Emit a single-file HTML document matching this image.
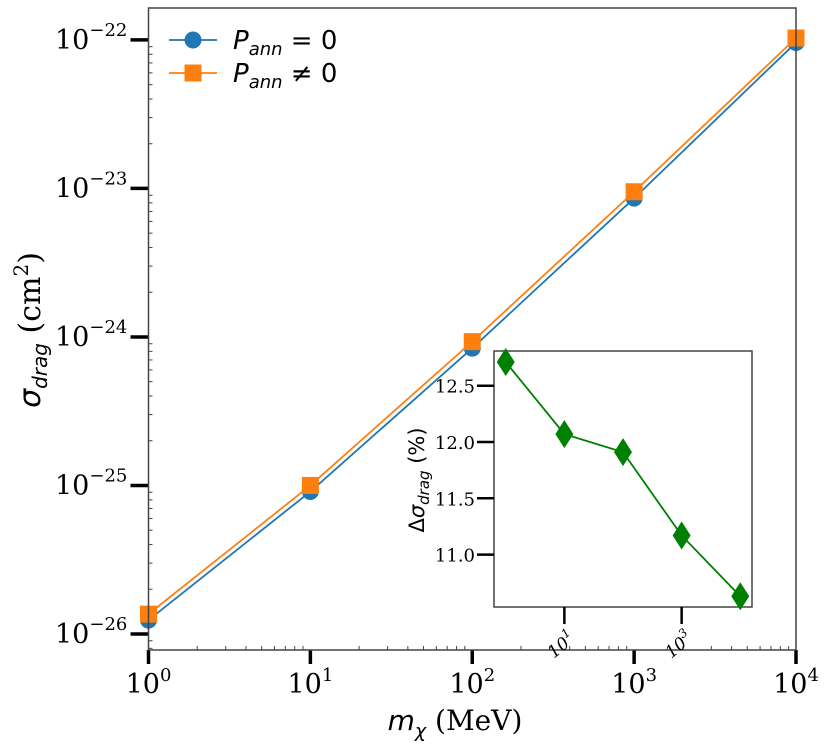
<!DOCTYPE html>
<html><head><meta charset="utf-8"><style>
html,body{margin:0;padding:0;background:#fff;}
svg{display:block;}
.serif{font-family:"DejaVu Serif","Liberation Serif",serif;}
.sans{font-family:"DejaVu Sans","Liberation Sans",sans-serif;}
</style></head><body>
<svg id="chart" width="826" height="749" viewBox="0 0 826 749" xmlns="http://www.w3.org/2000/svg">
<g id="main"></g>
<g id="inset"></g>
</svg>
<script>
// Main chart data
const masses = [1, 10, 100, 1000, 10000];
const sigmaNoAnn = [1.24e-26, 9.1e-26, 8.4e-25, 8.6e-24, 9.6e-23];
const sigmaAnn = [1.36e-26, 1.0e-25, 9.3e-25, 9.5e-24, 1.03e-22];
const xTickExps = [0, 1, 2, 3, 4];
const yTickExps = [-26, -25, -24, -23, -22];
// Inset data
const insetMasses = [1, 10, 100, 1000, 10000];
const deltaSigma = [12.71, 12.07, 11.91, 11.17, 10.63];
const insetYTicks = [11.0, 11.5, 12.0, 12.5];
const insetXTickExps = [1, 3];

const NS = "http://www.w3.org/2000/svg";
function mk(tag, attrs, parent, text) {
  const e = document.createElementNS(NS, tag);
  for (const k in attrs) e.setAttribute(k, attrs[k]);
  if (text !== undefined) e.textContent = text;
  parent.appendChild(e);
  return e;
}
const main = document.getElementById('main');
const inset = document.getElementById('inset');

const L = 148.5, R = 796, T = 8, B = 650;
const xMinL = 0, xMaxL = 4;
const yTopL = -21.785, yBotL = -26.108;
const xs = v => L + (Math.log10(v) - xMinL) / (xMaxL - xMinL) * (R - L);
const ys = v => T + (yTopL - Math.log10(v)) / (yTopL - yBotL) * (B - T);

for (let d = 0; d < 4; d++) for (let m = 2; m <= 9; m++) {
  const x = xs(m * Math.pow(10, d));
  const t = mk('line', {x1: x, x2: x, y1: B, y2: B - 4, stroke: '#444', 'stroke-width': 1}, main);
  
  
}
for (let d = -27; d <= -22; d++) for (let m = 2; m <= 9; m++) {
  const v = m * Math.pow(10, d);
  const y = ys(v);
  if (y < T || y > B) continue;
  const t = mk('line', {x1: L, x2: L + 4, y1: y, y2: y, stroke: '#444', 'stroke-width': 1}, main);
  
  
}
xTickExps.forEach(e => {
  const x = xs(Math.pow(10, e));
  const t = mk('line', {x1: x, x2: x, y1: B, y2: B + 14, stroke: '#000', 'stroke-width': 3.5}, main);
  
  
  const lab = mk('text', {x: x, y: 693, 'text-anchor': 'middle', 'font-size': 27, class: 'serif'}, main);
  
  
  mk('tspan', {}, lab, '10');
  mk('tspan', {dy: -12, 'font-size': 18}, lab, String(e));
});
yTickExps.forEach(e => {
  const y = ys(Math.pow(10, e));
  const t = mk('line', {x1: L - 18, x2: L, y1: y, y2: y, stroke: '#000', 'stroke-width': 3.5}, main);
  
  
  const lab = mk('text', {x: 55, y: y + 9, 'font-size': 27, class: 'serif'}, main);
  
  
  mk('tspan', {}, lab, '10');
  mk('tspan', {dy: -13, 'font-size': 18}, lab, '\u2212' + String(-e));
});
function series(vals, color, marker, name) {
  const pts = masses.map((m, i) => xs(m) + ',' + ys(vals[i])).join(' ');
  const pl = mk('polyline', {points: pts, fill: 'none', stroke: color, 'stroke-width': 1.8}, main);
  
  
  masses.forEach((m, i) => {
    let el;
    if (marker === 'circle') el = mk('circle', {cx: xs(m), cy: ys(vals[i]), r: 8.5, fill: color}, main);
    else el = mk('rect', {x: xs(m) - 8.5, y: ys(vals[i]) - 8.5, width: 17, height: 17, fill: color}, main);
    
    
  });
}
series(sigmaNoAnn, '#1f77b4', 'circle', 'p-ann-zero');
series(sigmaAnn, '#ff7f0e', 'square', 'p-ann-nonzero');
const c1 = mk('rect', {x: 0, y: 0, width: L - 0.5, height: 749, fill: '#fff'}, main);
 
main.insertBefore(c1, main.firstChild);
const fr = mk('rect', {x: L, y: T, width: R - L, height: B - T, fill: 'none', stroke: '#444', 'stroke-width': 1.5}, main);



const xt = mk('text', {x: 455, y: 730, 'text-anchor': 'middle', 'font-size': 28, class: 'serif'}, main);


mk('tspan', {'font-style': 'italic', class: 'sans'}, xt, 'm');
mk('tspan', {'font-style': 'italic', 'font-size': 19, dy: 7, class: 'sans'}, xt, '\u03c7');
mk('tspan', {dy: -7}, xt, ' (MeV)');

const yt = mk('text', {x: 0, y: 0, 'text-anchor': 'middle', 'font-size': 30, class: 'serif', transform: 'translate(40,330) rotate(-90)'}, main);


mk('tspan', {'font-style': 'italic', class: 'sans'}, yt, '\u03c3');
mk('tspan', {'font-style': 'italic', 'font-size': 20, dy: 7, class: 'sans'}, yt, 'drag');
mk('tspan', {dy: -7}, yt, ' (cm');
mk('tspan', {dy: -12, 'font-size': 20}, yt, '2');
mk('tspan', {dy: 12}, yt, ')');

const lg = mk('g', {}, main);


[['#1f77b4', 'circle', '= 0', 40], ['#ff7f0e', 'square', '\u2260 0', 73]].forEach(([c, m, s, y]) => {
  const e = mk('g', {}, lg);
  
  
  mk('line', {x1: 169, x2: 217, y1: y, y2: y, stroke: c, 'stroke-width': 1.8}, e);
  if (m === 'circle') mk('circle', {cx: 193, cy: y, r: 8.5, fill: c}, e);
  else mk('rect', {x: 184.5, y: y - 8.5, width: 17, height: 17, fill: c}, e);
  const t = mk('text', {x: 233, y: y + 9, 'font-size': 26, class: 'sans'}, e);
  mk('tspan', {'font-style': 'italic'}, t, 'P');
  mk('tspan', {'font-style': 'italic', 'font-size': 18, dy: 6}, t, 'ann');
  mk('tspan', {dy: -6}, t, ' ' + s);
});

const iL = 494, iR = 752, iT = 351, iB = 607;
const ixs = v => iL + (Math.log10(v) + 0.2) / 4.4 * (iR - iL);
const iys = v => 385.7 + (12.5 - v) / 0.5 * 56.3;
const ibg = mk('rect', {x: iL, y: iT, width: iR - iL, height: iB - iT, fill: '#fff', stroke: '#444', 'stroke-width': 1.5}, inset);


insetYTicks.forEach(v => {
  const y = iys(v);
  const t = mk('line', {x1: iL - 17, x2: iL, y1: y, y2: y, stroke: '#000', 'stroke-width': 2.5}, inset);
  
  
  const l = mk('text', {x: iL - 19, y: y + 7, 'text-anchor': 'end', 'font-size': 18, class: 'serif'}, inset, v.toFixed(1));
  
  
});
insetXTickExps.forEach(e => {
  const x = ixs(Math.pow(10, e));
  const t = mk('line', {x1: x, x2: x, y1: iB, y2: iB + 17, stroke: '#000', 'stroke-width': 2.5}, inset);
  
  
  const l = mk('text', {x: 0, y: 0, 'text-anchor': 'end', 'font-size': 17, 'font-style': 'italic', class: 'serif', transform: `translate(${x + 12},${iB + 33}) rotate(-40)`}, inset);
  
  
  mk('tspan', {}, l, '10');
  mk('tspan', {dy: -8, 'font-size': 12}, l, String(e));
});
const ipts = insetMasses.map((m, i) => ixs(m) + ',' + iys(deltaSigma[i])).join(' ');
const ipl = mk('polyline', {points: ipts, fill: 'none', stroke: 'green', 'stroke-width': 1.8}, inset);


insetMasses.forEach((m, i) => {
  const x = ixs(m), y = iys(deltaSigma[i]);
  const d = mk('polygon', {points: `${x},${y - 14} ${x + 9},${y} ${x},${y + 14} ${x - 9},${y}`, fill: 'green'}, inset);
  
  
});
const iyt = mk('text', {x: 0, y: 0, 'text-anchor': 'middle', 'font-size': 21, class: 'sans', transform: 'translate(424,480) rotate(-90)'}, inset);


mk('tspan', {}, iyt, '\u0394');
mk('tspan', {'font-style': 'italic'}, iyt, '\u03c3');
mk('tspan', {'font-style': 'italic', 'font-size': 15, dy: 5}, iyt, 'drag');
mk('tspan', {dy: -5}, iyt, ' (%)');
</script>
</body></html>
